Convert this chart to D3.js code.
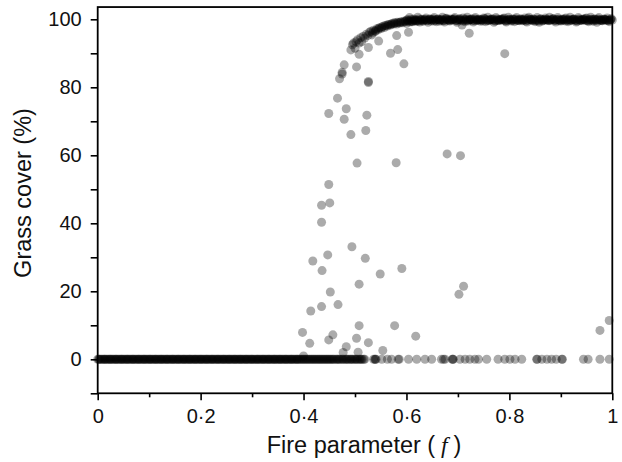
<!DOCTYPE html>
<html><head><meta charset="utf-8">
<script src="https://cdn.jsdelivr.net/npm/d3@7"></script>
<style>html,body{margin:0;padding:0;background:#fff;}</style>
</head><body>
<svg id="chart" width="622" height="462"></svg>
<script>
// ---- Data ----
// Runs that ended with no grass (0 %): fire parameter values (two replicate sets)
const zeroF = [
0.000,0.003,0.007,0.011,0.014,0.018,0.022,0.025,0.029,0.033,0.036,0.040,0.044,0.047,0.051,0.055,0.058,0.062,0.066,0.069,
0.073,0.077,0.080,0.084,0.088,0.091,0.095,0.099,0.102,0.106,0.110,0.113,0.117,0.121,0.124,0.128,0.132,0.135,0.139,0.143,
0.146,0.150,0.154,0.157,0.161,0.165,0.168,0.172,0.176,0.179,0.183,0.187,0.190,0.194,0.198,0.201,0.205,0.209,0.212,0.216,
0.220,0.223,0.227,0.231,0.234,0.238,0.242,0.245,0.249,0.253,0.256,0.260,0.264,0.267,0.271,0.275,0.278,0.282,0.286,0.289,
0.293,0.297,0.300,0.304,0.308,0.311,0.315,0.319,0.322,0.326,0.330,0.333,0.337,0.341,0.344,0.348,0.352,0.355,0.359,0.363,
0.366,0.370,0.374,0.377,0.381,0.385,0.388,0.392,0.396,0.400,0.404,0.408,0.412,0.416,0.420,0.424,0.428,0.432,0.436,0.440,
0.444,0.448,0.452,0.456,0.460,0.465,0.469,0.474,0.478,0.483,0.487,0.492,0.496,0.501,0.505,0.510,0.514,0.519,
0.536,0.539,0.539,0.541,0.552,0.563,0.571,0.584,0.586,0.604,0.620,0.636,0.649,0.668,0.672,0.675,0.689,0.690,0.691,
0.704,0.714,0.723,0.733,0.740,0.756,0.778,0.791,0.801,0.811,0.824,0.853,0.854,0.863,0.873,0.882,0.891,0.902,0.903,
0.944,0.953,0.976,0.994
];
const zeroF2 = [
0.002,0.005,0.009,0.013,0.016,0.020,0.024,0.027,0.031,0.035,0.038,0.042,0.046,0.049,0.053,0.057,0.060,0.064,0.068,0.071,
0.075,0.079,0.082,0.086,0.090,0.093,0.097,0.101,0.104,0.108,0.112,0.115,0.119,0.123,0.126,0.130,0.134,0.137,0.141,0.145,
0.148,0.152,0.156,0.159,0.163,0.167,0.170,0.174,0.178,0.181,0.185,0.189,0.192,0.196,0.200,0.203,0.207,0.211,0.214,0.218,
0.222,0.225,0.229,0.233,0.236,0.240,0.244,0.247,0.251,0.255,0.258,0.262,0.266,0.269,0.273,0.277,0.280,0.284,0.288,0.291,
0.295,0.299,0.302,0.306,0.310,0.313,0.317,0.321,0.324,0.328,0.332,0.335,0.339,0.343,0.346,0.350,0.354,0.357,0.361,0.365,
0.368,0.372,0.376,0.379,0.383,0.387,0.390,0.394,0.398,0.402,0.406,0.410,0.414,0.418,0.422,0.426,0.430,0.434,0.438,0.442,
0.446,0.450,0.454,0.458,0.463,0.467,0.471,0.476,0.481,0.485,0.490,0.494,0.499,0.503,0.508,0.512,0.517
];
// Runs that ended near full grass cover: fire parameter and grass cover (%)
const topF = [
0.492,0.495,0.497,0.500,0.502,0.505,0.508,0.511,0.513,0.516,0.519,0.522,0.525,0.528,0.531,0.533,0.536,0.539,0.542,0.545,
0.548,0.551,0.554,0.557,0.560,0.563,0.566,0.569,0.572,0.575,0.578,0.581,0.584,0.587,0.590,0.593,0.597,0.600,0.603,0.606,
0.609,0.612,0.615,0.618,0.621,0.624,0.628,0.632,0.636,0.640,0.644,0.648,0.652,0.656,0.660,0.664,0.668,0.672,0.676,0.680,
0.684,0.688,0.692,0.696,0.700,0.704,0.708,0.712,0.716,0.720,0.724,0.728,0.732,0.736,0.740,0.744,0.748,0.752,0.756,0.760,
0.764,0.768,0.772,0.776,0.780,0.784,0.788,0.792,0.796,0.800,0.804,0.808,0.812,0.816,0.820,0.824,0.828,0.832,0.836,0.840,
0.844,0.848,0.852,0.856,0.860,0.864,0.868,0.872,0.876,0.880,0.884,0.888,0.892,0.896,0.900,0.904,0.908,0.912,0.916,0.920,
0.924,0.928,0.932,0.936,0.940,0.944,0.948,0.952,0.956,0.960,0.964,0.968,0.972,0.976,0.980,0.984,0.988,0.992,0.996,1.000
];
const topG = [
91.0,92.5,93.0,91.5,93.4,94.0,93.0,94.6,93.4,95.0,94.5,95.6,95.2,96.2,96.5,95.4,96.8,96.4,97.2,96.9,
97.5,97.3,97.9,97.6,98.1,98.0,98.4,98.3,98.7,98.6,98.9,98.6,99.0,98.9,99.2,99.0,99.3,98.8,99.4,99.2,
99.5,99.3,99.6,99.4,99.7,99.5,99.8,99.4,100.0,99.6,99.9,99.5,100.1,99.7,99.9,99.4,100.0,99.6,100.2,99.8,
99.5,99.9,100.1,99.6,99.8,100.2,98.3,99.7,100.0,99.5,99.9,100.1,99.6,99.8,100.0,99.4,99.9,100.2,99.7,99.6,
100.0,99.8,99.5,100.1,99.7,99.9,100.2,99.6,99.8,100.0,99.5,99.9,100.1,99.7,99.6,100.0,99.8,99.5,100.2,99.9,
99.7,100.0,99.6,99.8,100.1,99.5,99.9,100.0,99.7,99.8,100.2,99.6,99.9,100.0,99.5,99.8,100.1,99.7,99.9,99.6,
100.0,99.8,99.5,100.1,99.7,99.9,100.2,99.6,99.8,100.0,99.5,99.9,100.1,99.7,99.6,100.0,99.8,99.6,99.9,99.8
];
const topF2 = [
0.534,0.540,0.546,0.552,0.558,0.564,0.570,0.576,0.582,0.588,0.594,0.598,
0.602,0.606,0.610,0.614,0.618,0.622,0.626,0.630,0.634,0.638,0.642,0.646,0.650,0.654,0.658,0.662,0.666,0.670,0.674,0.678,
0.682,0.686,0.690,0.694,0.698,0.702,0.706,0.710,0.714,0.718,0.722,0.726,0.730,0.734,0.738,0.742,0.746,0.750,0.754,0.758,
0.762,0.766,0.770,0.774,0.778,0.782,0.786,0.790,0.794,0.798,0.802,0.806,0.810,0.814,0.818,0.822,0.826,0.830,0.834,0.838,
0.842,0.846,0.850,0.854,0.858,0.862,0.866,0.870,0.874,0.878,0.882,0.886,0.890,0.894,0.898,0.902,0.906,0.910,0.914,0.918,
0.922,0.926,0.930,0.934,0.938,0.942,0.946,0.950,0.954,0.958,0.962,0.966,0.970,0.974,0.978,0.982,0.986,0.990,0.994,0.998
];
const topG2 = [
96.0,96.6,97.4,97.7,98.2,98.5,98.6,99.0,99.1,99.2,99.4,99.5,
99.9,100.5,99.3,100.1,99.7,100.6,99.2,100.0,99.8,100.4,99.1,100.1,99.9,100.5,99.3,100.0,99.8,100.6,99.2,100.3,
99.7,100.1,99.9,100.5,99.1,100.0,99.8,100.4,99.3,100.6,99.9,100.1,99.2,100.5,99.7,100.0,99.8,100.4,99.3,100.6,
99.9,100.1,99.1,100.5,99.7,100.0,99.8,100.4,99.2,100.6,99.9,100.1,99.3,100.5,99.7,100.0,99.8,100.4,99.2,100.6,
99.9,100.1,99.3,100.5,99.1,100.0,99.8,100.4,99.7,100.6,99.9,100.1,99.2,100.5,99.7,100.0,99.8,100.4,99.3,100.6,
99.9,100.1,99.2,100.5,99.7,100.0,99.8,100.4,99.3,100.6,99.9,100.1,99.1,100.5,99.7,100.0,99.8,100.4,99.3,100.2
];
const topF3 = [
0.601,0.605,0.609,0.613,0.617,0.621,0.625,0.629,0.633,0.637,0.641,0.645,0.649,0.653,0.657,0.661,0.665,0.669,0.673,0.677,
0.681,0.685,0.689,0.693,0.697,0.701,0.705,0.709,0.713,0.717,0.721,0.725,0.729,0.733,0.737,0.741,0.745,0.749,0.753,0.757,
0.761,0.765,0.769,0.773,0.777,0.781,0.785,0.789,0.793,0.797,0.801,0.805,0.809,0.813,0.817,0.821,0.825,0.829,0.833,0.837,
0.841,0.845,0.849,0.853,0.857,0.861,0.865,0.869,0.873,0.877,0.881,0.885,0.889,0.893,0.897,0.901,0.905,0.909,0.913,0.917,
0.921,0.925,0.929,0.933,0.937,0.941,0.945,0.949,0.953,0.957,0.961,0.965,0.969,0.973,0.977,0.981,0.985,0.989,0.993,0.997
];
const topG3 = [
99.8,99.6,100.0,99.7,99.9,99.5,100.1,99.8,99.6,99.9,99.7,100.0,99.8,99.5,99.9,100.1,99.7,99.8,99.6,100.0,
99.9,99.7,99.8,100.1,99.6,99.9,99.8,99.5,100.0,99.7,99.8,99.9,99.6,100.1,99.8,99.7,99.9,99.5,100.0,99.8,
99.7,99.9,100.1,99.6,99.8,99.7,100.0,99.9,99.5,99.8,99.9,99.6,100.0,99.7,99.8,100.1,99.6,99.9,99.8,99.7,
100.0,99.6,99.8,99.9,99.5,100.1,99.7,99.8,99.9,99.6,99.8,100.0,99.7,99.9,99.6,99.8,100.1,99.5,99.9,99.7,
99.8,100.0,99.6,99.9,99.7,99.8,100.1,99.6,99.8,99.9,99.5,100.0,99.7,99.8,99.9,99.6,100.0,99.8,99.7,99.9
];
// Scattered intermediate outcomes: fire parameter and grass cover (%)
const midF = [
0.400,0.398,0.412,0.414,0.418,0.435,0.436,0.447,0.449,0.457,0.452,0.467,0.477,0.483,0.494,0.503,0.506,0.508,0.508,0.520,
0.526,0.549,0.554,0.577,0.591,0.618,0.702,0.711,0.976,0.994,0.435,0.435,0.451,0.449,0.504,0.580,0.679,0.705,0.492,0.521,
0.479,0.523,0.449,0.483,0.466,0.470,0.475,0.475,0.479,0.503,0.526,0.526,0.526,0.508,0.546,0.569,0.583,0.581,0.595,0.604,
0.722,0.791
];
const midG = [
1.0,7.9,4.7,14.2,28.9,15.5,26.1,30.7,5.7,7.2,19.8,16.1,2.0,3.7,33.1,6.2,2.1,9.9,22.1,29.7,
4.9,25.1,2.6,9.9,26.7,6.8,19.1,21.5,8.5,11.4,40.3,45.3,46.0,51.4,57.7,57.8,60.4,59.9,66.1,67.3,
70.6,71.8,72.3,73.7,76.8,82.5,83.9,84.4,86.6,86.0,81.7,81.4,91.7,89.7,93.6,90.0,91.1,95.2,86.9,96.2,
95.9,89.9
];
const xMajor = [0, 0.2, 0.4, 0.6, 0.8, 1];
const xMinor = [0.1, 0.3, 0.5, 0.7, 0.9];
const yMajor = [0, 20, 40, 60, 80, 100];
const yMinor = [-10, 10, 30, 50, 70, 90];
const xTitle = "Fire parameter (";
const xTitleItalic = "f";
const yTitle = "Grass cover (%)";

// ---- Drawing ----
const svg = d3.select("#chart");
const FONT = "'Liberation Sans', Arial, sans-serif";
const x = d3.scaleLinear().domain([0, 1]).range([97.7, 612.3]);
const y = d3.scaleLinear().domain([-10, 100]).range([393.3, 19.3]);
const yTop = 103.6;

const pts = [];
zeroF.forEach(f => pts.push([f, 0]));
zeroF2.forEach(f => pts.push([f, 0]));
topF.forEach((f, i) => pts.push([f, topG[i]]));
topF2.forEach((f, i) => pts.push([f, topG2[i]]));
topF3.forEach((f, i) => pts.push([f, topG3[i]]));
midF.forEach((f, i) => pts.push([f, midG[i]]));

svg.append("g").selectAll("circle").data(pts).join("circle")
  .attr("cx", d => x(d[0])).attr("cy", d => y(d[1])).attr("r", 4.5)
  .attr("fill", "#000").attr("fill-opacity", 0.33);

const fmtX = d => d === 0 ? "0" : d === 1 ? "1" : d3.format(".1f")(d).replace(".", "\u00B7");

function styleAxis(g) {
  g.select(".domain").remove();
  g.selectAll("line").attr("stroke", "#000").attr("stroke-width", 1.6);
  g.selectAll("text").attr("font-family", FONT).attr("font-size", 20).attr("fill", "#111");
}
svg.append("g").attr("transform", `translate(0,${y(-10)})`)
  .call(d3.axisBottom(x).tickValues(xMajor).tickSize(7).tickPadding(9).tickFormat(fmtX)).call(styleAxis);
svg.append("g").attr("transform", `translate(0,${y(-10)})`)
  .call(d3.axisBottom(x).tickValues(xMinor).tickSize(4).tickFormat("")).call(styleAxis);
svg.append("g").attr("transform", `translate(${x(0)},0)`)
  .call(d3.axisLeft(y).tickValues(yMajor).tickSize(7).tickPadding(9).tickFormat(d3.format("d"))).call(styleAxis);
svg.append("g").attr("transform", `translate(${x(0)},0)`)
  .call(d3.axisLeft(y).tickValues(yMinor).tickSize(7).tickFormat("")).call(styleAxis);

// frame
svg.append("rect")
  .attr("x", x(0)).attr("y", y(yTop))
  .attr("width", x(1) - x(0)).attr("height", y(-10) - y(yTop))
  .attr("fill", "none").attr("stroke", "#000").attr("stroke-width", 1.8);

// titles
const xt = svg.append("text").attr("x", 364).attr("y", 453)
  .attr("text-anchor", "middle").attr("font-family", FONT).attr("font-size", 23.5).attr("fill", "#111");
xt.append("tspan").text(xTitle);
xt.append("tspan").attr("font-family", "'Liberation Serif', serif").attr("font-style", "italic").text(" " + xTitleItalic + " ");
xt.append("tspan").text(")");

svg.append("text").attr("transform", "translate(31,193) rotate(-90)")
  .attr("text-anchor", "middle").attr("font-family", FONT).attr("font-size", 23.5).attr("fill", "#111")
  .text(yTitle);
</script>
</body></html>
